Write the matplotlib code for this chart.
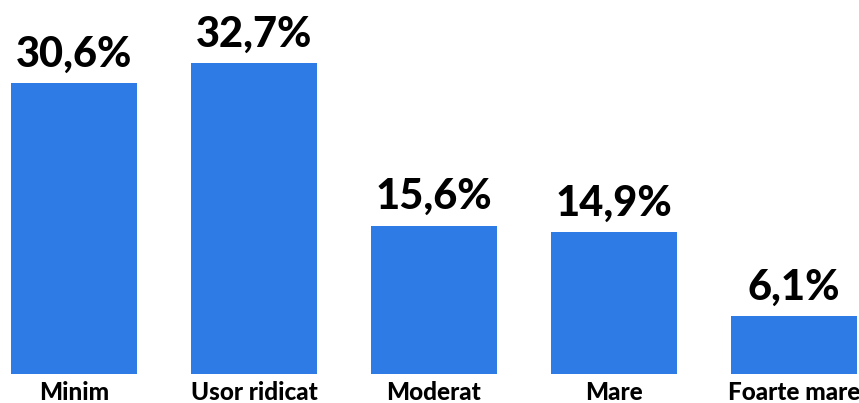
import matplotlib
matplotlib.use("Agg")
import matplotlib.pyplot as plt

categories = ["Minim", "Usor ridicat", "Moderat", "Mare", "Foarte mare"]
values = [30.6, 32.7, 15.6, 14.9, 6.1]
labels = ["30,6%", "32,7%", "15,6%", "14,9%", "6,1%"]

plt.rcParams['font.family'] = ['Lato', 'DejaVu Sans']

W, H = 859, 403
fig = plt.figure(figsize=(W / 100, H / 100), dpi=100)
bottom_px = 374
ax = fig.add_axes([0, (H - bottom_px) / H, 1, bottom_px / H])

x = list(range(len(categories)))
ax.bar(x, values, width=0.7, color="#2F7BE6")

# 180 px per category, first bar centred at 74 px
ax.set_xlim(-74 / 180, (W - 74) / 180)
ax.set_ylim(0, bottom_px / 9.5)

for xi, v, lab in zip(x, values, labels):
    ax.annotate(lab, (xi, v), xytext=(0, 12), textcoords="offset points",
                ha="center", va="baseline", fontsize=30, fontweight="black",
                color="black")

for xi, c in zip(x, categories):
    fig.text((74 + 180 * xi) / W, (H - 381) / H, c, ha="center", va="top",
             fontsize=17.5, fontweight="black", color="black")

ax.axis("off")
fig.savefig("out.png", dpi=100)
